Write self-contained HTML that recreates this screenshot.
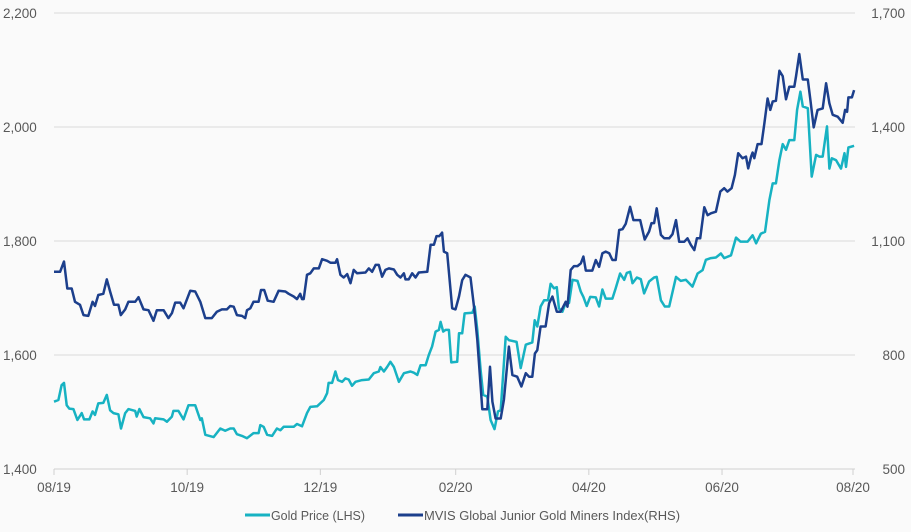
<!DOCTYPE html>
<html><head><meta charset="utf-8"><style>
html,body{margin:0;padding:0;background:#fafafa;}
svg text{font-family:"Liberation Sans",sans-serif;fill:#595959;}
</style></head><body>
<svg id="chart" width="911" height="527" xmlns="http://www.w3.org/2000/svg">
<rect width="911" height="527" fill="#fafafa"/>
<g id="grid"></g>
<g id="leftAxis"></g>
<g id="rightAxis"></g>
<g id="xAxis"></g>
<g id="series"></g>
<g>
  <g>
    <line x1="245" y1="515" x2="270" y2="515" stroke="#17b2c2" stroke-width="3"/>
    <text x="271" y="520" font-size="13" textLength="94" lengthAdjust="spacingAndGlyphs">Gold Price (LHS)</text>
  </g>
  <g>
    <line x1="398" y1="515" x2="423" y2="515" stroke="#1c3f8c" stroke-width="3"/>
    <text x="424" y="520" font-size="13" textLength="256" lengthAdjust="spacingAndGlyphs">MVIS Global Junior Gold Miners Index(RHS)</text>
  </g>
</g>
</svg>
<script>
const leftTicks = [1400, 1600, 1800, 2000, 2200];
const leftTickLabels = ["1,400", "1,600", "1,800", "2,000", "2,200"];
const rightTicks = [500, 800, 1100, 1400, 1700];
const rightTickLabels = ["500", "800", "1,100", "1,400", "1,700"];
const xTickDays = [0, 61, 122, 184, 245, 306, 366];
const xTickLabels = ["08/19", "10/19", "12/19", "02/20", "04/20", "06/20", "08/20"];

const goldDays = [0,2,3.5,4.6,5.8,7,8.9,10.7,12.7,13.8,16.2,17.7,18.8,20.3,22.6,24.2,25.7,27.2,29.5,30.7,32.6,34.1,37.2,37.9,39.1,41,44,45.6,46.3,50.2,51.7,54,54.7,57,59.3,61.6,64.7,67,67.7,69.3,73.1,76.2,78.4,80.7,82.3,83.8,86.1,88.4,91.4,93.7,94.5,96,97.6,99.9,102.1,103.7,105.2,109.8,111.3,113.6,115.9,117.4,120.5,123.6,125.1,125.8,127.4,128.9,130.1,132,133.5,135,136.5,138.1,141.1,144.2,146.5,148.8,149.5,151.1,152.6,154.1,155.7,158,160.3,163.3,164.8,166.4,167.9,170.2,171.7,173.2,174.8,176.3,177.1,178.3,179.4,180.9,182,184.7,185.5,187,188.1,191.6,192.7,193.9,195.4,196.6,198.5,200,201.8,203.4,204.6,206.9,208.4,211.9,213.8,216.1,217.6,219.1,220.2,221.4,222.9,224.5,226.3,227.5,229,230.3,231.3,232.9,234.4,235.9,237.5,239.8,241.3,242.5,244,245.6,248.2,249.7,251.2,252.7,255.8,257.3,259.3,261.2,262.4,263.9,265,267,268.8,270.3,272.6,274.9,276.1,278,279.8,281.8,284.9,287.1,289.4,292.5,294.8,297.1,298.6,300.9,303.2,305.5,307,310.1,312.4,314.4,317.7,320,321.6,323.8,325.7,327.7,329.2,330.7,332.3,333.8,335.3,336.8,339.1,340.4,341.9,343,345.3,347.1,349.1,350.6,352.1,353.2,354.1,355.2,356.3,358.2,360.5,362.1,362.8,363.9,366.5];
const goldValues = [1518,1521,1547,1551,1512,1506,1505,1486,1498,1487,1487,1501,1495,1515,1516,1530,1503,1498,1496,1471,1498,1505,1502,1492,1505,1491,1489,1480,1489,1487,1483,1492,1502,1502,1487,1512,1512,1486,1489,1460,1456,1471,1467,1471,1471,1461,1458,1454,1463,1463,1477,1474,1460,1458,1471,1468,1474,1474,1479,1475,1498,1509,1510,1521,1533,1551,1551,1571,1556,1553,1559,1557,1546,1553,1556,1557,1568,1571,1579,1571,1579,1588,1579,1553,1568,1571,1569,1565,1582,1582,1600,1615,1641,1644,1658,1641,1644,1644,1587,1588,1638,1638,1673,1674,1685,1644,1574,1530,1527,1486,1470,1501,1503,1632,1626,1623,1577,1618,1620,1622,1661,1650,1685,1696,1696,1725,1717,1719,1682,1676,1691,1691,1732,1730,1711,1702,1686,1702,1701,1685,1715,1699,1699,1717,1743,1732,1744,1746,1726,1736,1733,1708,1729,1736,1737,1696,1685,1685,1737,1730,1732,1720,1743,1749,1767,1770,1771,1778,1770,1775,1806,1799,1799,1810,1796,1813,1816,1872,1901,1901,1942,1970,1960,1977,1977,2030,2062,2036,2033,1913,1951,1948,1948,1978,2001,1927,1945,1942,1927,1954,1930,1964,1967];

const minerDays = [0,2.8,4.6,6.1,8.1,9.6,11.9,13.5,15.7,17.7,18.8,20.3,22.6,24.2,25.7,27.5,29.5,30.6,32.6,34.1,37.2,38.7,41,43.3,45.6,47.1,50.2,52.4,54,55.5,57.8,59.3,62.4,64.7,67,69.3,72.3,74.6,76.9,79.2,80.7,82.3,83.8,86.1,87.6,88.4,89.9,91.4,93.7,94.8,96.3,97.9,100.6,102.9,106,107.5,109.8,111.3,112.8,113.6,114.4,115.9,117.4,119,121.3,122.8,125.1,126.6,128.9,129.7,131.2,132.7,134.3,135.8,137.3,138.8,142.7,144.2,145.7,147.3,148.8,150.3,151.8,153.4,155.7,157.2,158.7,160.3,161,162.5,164.1,165.6,167.1,171,172.5,174,175.2,176.5,177.8,178.6,180.1,182.4,183.9,185.5,187,188.5,190.8,192.4,193.9,196.2,198.5,199.7,200.8,202.3,204.6,206.1,208.4,210,212.2,214.1,216.1,217.6,219.1,220.3,221.4,222.9,225.2,226.8,228.3,230.3,232.1,234.4,235.2,236.7,238.2,239.8,241.3,242.5,243.6,246.6,248.2,249.7,251.2,252.7,254.3,255.8,257.3,258.9,260.4,261.9,263.9,265.4,268.5,270.6,272.6,273.7,274.9,276.1,278,279.5,281.8,283.3,284.9,286.4,288.7,290.2,291.7,293.3,294.5,296,297.9,299.4,300.9,303.2,305.2,307,308.5,310.4,311.9,313.4,315.4,317,318,319.3,320,320.8,322.3,324.1,325.4,326.9,328.1,329.2,330.7,332.3,333.8,335.3,336.8,339.1,339.9,341.4,343,345.3,346.5,348,349.8,352.1,353.7,355.2,356.7,359,361.3,362.4,363.3,363.9,365.5,366.5];
const minerValues = [1019,1019,1046,975,975,940,932,905,903,940,929,958,961,999,967,932,932,905,920,940,940,952,920,918,890,918,918,897,910,938,938,923,969,967,940,897,897,914,920,920,929,927,905,903,897,918,923,940,940,971,971,943,940,969,967,961,954,947,961,947,947,1011,1015,1028,1028,1052,1048,1043,1043,1052,1011,1004,1013,989,1024,1015,1017,1028,1019,1037,1037,1006,1024,1028,1025,1011,1004,1015,999,999,1015,1004,1017,1019,1090,1090,1113,1113,1122,1072,1068,923,920,954,997,1011,1004,927,840,657,657,769,677,633,633,682,822,747,743,717,752,743,743,804,813,875,875,936,954,914,914,940,927,1024,1034,1034,1041,1059,1022,1022,1050,1032,1068,1072,1068,1050,1050,1129,1131,1145,1190,1155,1155,1104,1125,1147,1147,1186,1116,1107,1107,1118,1155,1098,1098,1107,1090,1076,1107,1107,1189,1168,1173,1177,1230,1239,1230,1239,1274,1331,1318,1322,1291,1322,1333,1318,1355,1355,1410,1475,1445,1467,1469,1548,1534,1473,1506,1506,1533,1592,1525,1525,1471,1399,1445,1449,1515,1462,1432,1427,1411,1445,1440,1478,1478,1497];

const NS = "http://www.w3.org/2000/svg";
const X0 = 54, X1 = 853, YB = 469, YT = 13;
function xScale(d){ return X0 + (d - 0) / 366 * (X1 - X0); }
function yLeft(v){ return YB - (v - 1400) / 800 * (YB - YT); }
function yRight(v){ return YB - (v - 500) / 1200 * (YB - YT); }
function mk(tag, attrs, parent){ const e = document.createElementNS(NS, tag); for (const k in attrs) e.setAttribute(k, attrs[k]); parent.appendChild(e); return e; }

const grid = document.getElementById('grid');
leftTicks.forEach((t, i) => {
  const y = yLeft(t);
  const gl = mk('line', {x1: X0, x2: X1 + 2, y1: y, y2: y, stroke: i === 0 ? '#d0d0d0' : '#d9d9d9', 'stroke-width': 1}, grid);
  
  
});
const la = document.getElementById('leftAxis');
leftTicks.forEach((t, i) => {
  const tx = mk('text', {x: 3, y: yLeft(t) + 5, 'font-size': 13.5}, la);
  tx.textContent = leftTickLabels[i];
  
  
});
const ra = document.getElementById('rightAxis');
rightTicks.forEach((t, i) => {
  const tx = mk('text', {x: 905, y: yRight(t) + 5, 'font-size': 13.5, 'text-anchor': 'end'}, ra);
  tx.textContent = rightTickLabels[i];
  
  
});
const xa = document.getElementById('xAxis');
xTickDays.forEach((d, i) => {
  const x = xScale(d);
  const tk = mk('line', {x1: x, x2: x, y1: YB, y2: YB + 6, stroke: '#d0d0d0', 'stroke-width': 1}, xa);
  
  
  const tx = mk('text', {x: x, y: 492, 'font-size': 13.5, 'text-anchor': 'middle'}, xa);
  tx.textContent = xTickLabels[i];
  
  
});
const sg = document.getElementById('series');
function path(days, vals, ys){ return days.map((d, i) => (i ? 'L' : 'M') + xScale(d).toFixed(1) + ',' + ys(vals[i]).toFixed(1)).join(''); }
const gp = mk('path', {d: path(goldDays, goldValues, yLeft), fill: 'none', stroke: '#17b2c2', 'stroke-width': 2.5, 'stroke-linejoin': 'round'}, sg);


const mp = mk('path', {d: path(minerDays, minerValues, yRight), fill: 'none', stroke: '#1c3f8c', 'stroke-width': 2.5, 'stroke-linejoin': 'round'}, sg);


</script>
</body></html>
